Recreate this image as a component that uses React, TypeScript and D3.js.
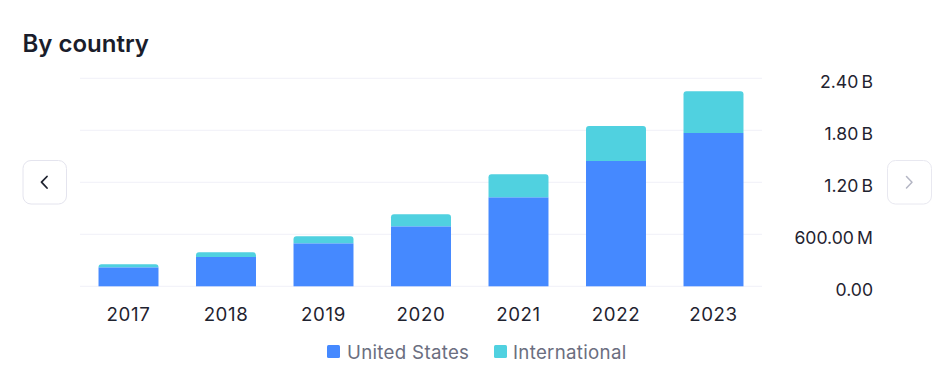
import React from "react";
import * as d3 from "d3";

const years = ["2017", "2018", "2019", "2020", "2021", "2022", "2023"];
const unitedStates = [219e6, 338e6, 496e6, 692e6, 1027e6, 1446e6, 1769e6];
const international = [35e6, 54e6, 81e6, 139e6, 265e6, 404e6, 481e6];
const yTicks = [0, 600e6, 1200e6, 1800e6, 2400e6];
const seriesNames = ["United States", "International"];
const seriesColors = ["#4589ff", "#50d1e0"];

const W = 942;
const H = 380;
const left = 80;
const right = 762;
const y0 = 286.3;
const yTop = 78.3;

function fmt(v: number) {
  if (v === 0) return "0.00";
  if (v >= 1e9) return (v / 1e9).toFixed(2) + "\u202FB";
  return (v / 1e6).toFixed(2) + "\u202FM";
}

function roundTopRect(x: number, y: number, w: number, h: number, r: number) {
  const rr = Math.min(r, h, w / 2);
  return `M${x},${y + h}V${y + rr}Q${x},${y} ${x + rr},${y}H${x + w - rr}Q${x + w},${y} ${x + w},${y + rr}V${y + h}Z`;
}

export default function App() {
  const x = d3.scaleBand<string>().domain(years).range([left, right]).paddingInner(0.385).paddingOuter(0.19);
  const y = d3.scaleLinear().domain([0, 2400e6]).range([y0, yTop]);
  const font = "Inter, 'Noto Sans', sans-serif";
  const rows = years.map((yr, i) => ({ year: yr, us: unitedStates[i], intl: international[i] }));
  const series = d3.stack<any>().keys(["us", "intl"])(rows as any);

  return (
    <svg width={W} height={H} style={{ position: "absolute", left: 0, top: 0, background: "#fff" }}>
      <text x={22.5} y={51.5} fontFamily={font} fontSize={24} fontWeight={600} fill="#1a1d2b">
        By country
      </text>
      {yTicks.map((t) => (
        <g key={t}>
          <line x1={left} x2={right} y1={y(t)} y2={y(t)} stroke="#f0f0f8" strokeWidth={1} />
          <text x={873} y={y(t) + 9.5} textAnchor="end" fontFamily={font} fontSize={17.6} fill="#1f2330">
            {fmt(t)}
          </text>
        </g>
      ))}
      {series.map((s, si) =>
        s.map((d, i) => {
          const bx = x(years[i])!;
          const bw = x.bandwidth();
          const top = y(d[1]);
          const h = y(d[0]) - top;
          return si === series.length - 1 ? (
            <path key={si + "-" + i} d={roundTopRect(bx, top, bw, h, 3)} fill={seriesColors[si]} />
          ) : (
            <rect key={si + "-" + i} x={bx} y={top} width={bw} height={h} fill={seriesColors[si]} />
          );
        })
      )}
      {years.map((yr) => (
        <text key={yr} x={x(yr)! + x.bandwidth() / 2} y={321} textAnchor="middle" fontFamily={font} fontSize={18.7} letterSpacing={0.6} fill="#1f2330">
          {yr}
        </text>
      ))}
      <g fontFamily={font} fontSize={18.7} letterSpacing={0.3} fill="#6b6e80">
        <rect x={327} y={345} width={13} height={13} rx={1.5} fill={seriesColors[0]} />
        <text x={347} y={358.5}>{seriesNames[0]}</text>
        <rect x={494} y={345} width={13} height={13} rx={1.5} fill={seriesColors[1]} />
        <text x={513} y={358.5}>{seriesNames[1]}</text>
      </g>
      <rect x={23} y={160.5} width={43.5} height={43.5} rx={8} fill="#fff" stroke="#e4e4ee" />
      <path d="M47,176.5 L41.5,182.2 L47,188" fill="none" stroke="#1f2330" strokeWidth={1.8} strokeLinecap="round" strokeLinejoin="round" />
      <rect x={887.5} y={160.5} width={44} height={43.5} rx={8} fill="#fff" stroke="#e8e8f0" />
      <path d="M906.5,176.5 L912,182.2 L906.5,188" fill="none" stroke="#b4b6c4" strokeWidth={1.5} strokeLinecap="round" strokeLinejoin="round" />
    </svg>
  );
}
